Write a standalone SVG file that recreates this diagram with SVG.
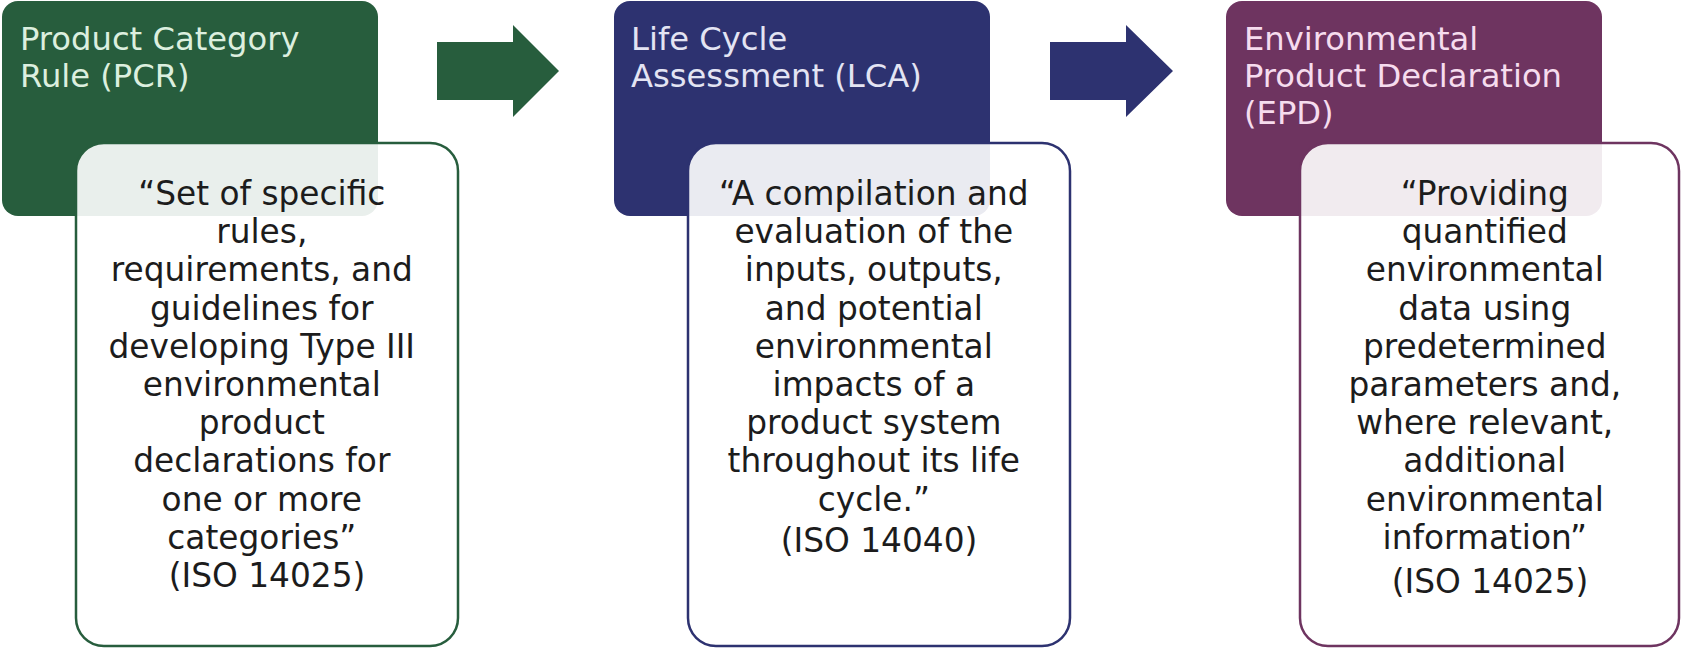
<svg xmlns="http://www.w3.org/2000/svg" width="1683" height="649" viewBox="0 0 1683 649">
  <style>
    .hdr { stroke: none; }
    .hdr-text { font-family: "DejaVu Sans", "Liberation Sans", sans-serif; font-size: 32.2px; }
    .card { fill: #ffffff; fill-opacity: 0.9; stroke-width: 2.5; }
    .body-text { font-family: "DejaVu Sans", "Liberation Sans", sans-serif; font-size: 32.8px; fill: #1c1c1c; text-anchor: middle; }
    .green { fill: #275d3d; }
    .navy { fill: #2d3270; }
    .plum { fill: #6e3460; }
  </style>

  <!-- Product Category Rule -->
  <g id="pcr">
    <rect class="hdr green" x="2" y="1" width="376" height="215" rx="16"/>
    <text class="hdr-text" fill="#dcefdf">
      <tspan x="20" y="50">Product Category</tspan>
      <tspan x="20" y="87">Rule (PCR)</tspan>
    </text>
    <rect class="card" x="76" y="143" width="382" height="503" rx="28" stroke="#275d3d"/>
    <text class="body-text">
      <tspan x="267" y="205">“Set of specific</tspan>
      <tspan x="267" y="243.2">rules,</tspan>
      <tspan x="267" y="281.4">requirements, and</tspan>
      <tspan x="267" y="319.6">guidelines for</tspan>
      <tspan x="267" y="357.8">developing Type III</tspan>
      <tspan x="267" y="396">environmental</tspan>
      <tspan x="267" y="434.2">product</tspan>
      <tspan x="267" y="472.4">declarations for</tspan>
      <tspan x="267" y="510.6">one or more</tspan>
      <tspan x="267" y="548.8">categories”</tspan>
      <tspan x="267" y="587">(ISO 14025)</tspan>
    </text>
  </g>

  <!-- Life Cycle Assessment -->
  <g id="lca">
    <rect class="hdr navy" x="614" y="1" width="376" height="215" rx="16"/>
    <text class="hdr-text" fill="#e3e4f3">
      <tspan x="631" y="50">Life Cycle</tspan>
      <tspan x="631" y="87">Assessment (LCA)</tspan>
    </text>
    <rect class="card" x="688" y="143" width="382" height="503" rx="28" stroke="#2d3270"/>
    <text class="body-text">
      <tspan x="879" y="205">“A compilation and</tspan>
      <tspan x="879" y="243.2">evaluation of the</tspan>
      <tspan x="879" y="281.4">inputs, outputs,</tspan>
      <tspan x="879" y="319.6">and potential</tspan>
      <tspan x="879" y="357.8">environmental</tspan>
      <tspan x="879" y="396">impacts of a</tspan>
      <tspan x="879" y="434.2">product system</tspan>
      <tspan x="879" y="472.4">throughout its life</tspan>
      <tspan x="879" y="510.6">cycle.”</tspan>
      <tspan x="879" y="552">(ISO 14040)</tspan>
    </text>
  </g>

  <!-- Environmental Product Declaration -->
  <g id="epd">
    <rect class="hdr plum" x="1226" y="1" width="376" height="215" rx="16"/>
    <text class="hdr-text" fill="#f6dcee">
      <tspan x="1244" y="50">Environmental</tspan>
      <tspan x="1244" y="87">Product Declaration</tspan>
      <tspan x="1244" y="124">(EPD)</tspan>
    </text>
    <rect class="card" x="1300" y="143" width="379" height="503" rx="28" stroke="#6e3460"/>
    <text class="body-text">
      <tspan x="1490" y="205">“Providing</tspan>
      <tspan x="1490" y="243.2">quantified</tspan>
      <tspan x="1490" y="281.4">environmental</tspan>
      <tspan x="1490" y="319.6">data using</tspan>
      <tspan x="1490" y="357.8">predetermined</tspan>
      <tspan x="1490" y="396">parameters and,</tspan>
      <tspan x="1490" y="434.2">where relevant,</tspan>
      <tspan x="1490" y="472.4">additional</tspan>
      <tspan x="1490" y="510.6">environmental</tspan>
      <tspan x="1490" y="548.8">information”</tspan>
      <tspan x="1490" y="593">(ISO 14025)</tspan>
    </text>
  </g>

  <!-- Block arrows between stages -->
  <g id="connectors">
    <polygon class="green" points="437,42 513,42 513,25 559,71 513,117 513,100 437,100"/>
    <polygon class="navy" points="1050,42 1126,42 1126,25 1173,71 1126,117 1126,100 1050,100"/>
  </g>
</svg>
